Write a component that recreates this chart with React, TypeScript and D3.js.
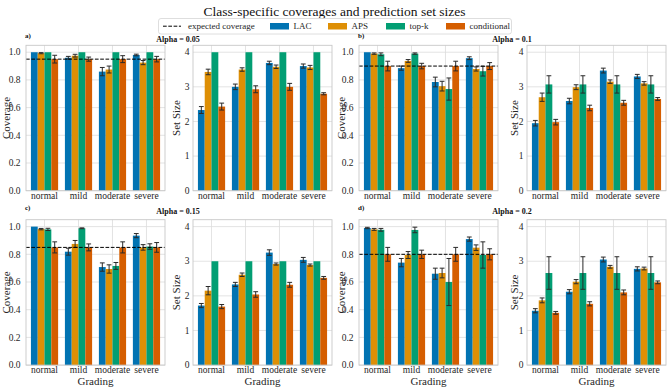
import * as d3 from "d3";

const grades = ["normal", "mild", "moderate", "severe"];
const methods = ["LAC", "APS", "top-k", "conditional"];
const colors = ["#0173b2", "#de8f05", "#029e73", "#d55e00"];
const alphas = [0.05, 0.1, 0.15, 0.2];
const tags = ["a)", "b)", "c)", "d)"];

// rows = methods (LAC, APS, top-k, conditional), columns = grades
const cov05 = [[1.0, 0.96, 0.86, 0.98], [0.993, 0.975, 0.875, 0.925], [1.0, 1.0, 1.0, 1.0], [0.95, 0.95, 0.95, 0.95]];
const cov05Err = [[0, 0.01, 0.03, 0.006], [0.004, 0.01, 0.025, 0.015], [0, 0, 0, 0], [0.028, 0.015, 0.025, 0.02]];
const cov10 = [[1.0, 0.885, 0.785, 0.957], [0.99, 0.937, 0.755, 0.879], [0.985, 0.99, 0.734, 0.863], [0.9, 0.9, 0.9, 0.9]];
const cov10Err = [[0, 0.015, 0.035, 0.01], [0.005, 0.01, 0.035, 0.015], [0.01, 0.005, 0.08, 0.035], [0.035, 0.02, 0.035, 0.025]];
const cov15 = [[1.0, 0.819, 0.708, 0.935], [0.982, 0.875, 0.694, 0.85], [0.98, 0.988, 0.716, 0.856], [0.85, 0.85, 0.85, 0.85]];
const cov15Err = [[0, 0.025, 0.03, 0.015], [0.005, 0.025, 0.03, 0.02], [0.008, 0.003, 0.025, 0.02], [0.04, 0.025, 0.04, 0.035]];
const cov20 = [[0.99, 0.74, 0.66, 0.91], [0.98, 0.795, 0.665, 0.848], [0.977, 0.976, 0.6, 0.795], [0.8, 0.8, 0.8, 0.8]];
const cov20Err = [[0.005, 0.03, 0.04, 0.015], [0.007, 0.025, 0.035, 0.02], [0.01, 0.02, 0.17, 0.095], [0.05, 0.03, 0.05, 0.04]];

const size05 = [[2.33, 3.0, 3.69, 3.6], [3.43, 3.5, 3.58, 3.56], [4, 4, 4, 4], [2.43, 2.93, 3.0, 2.8]];
const size05Err = [[0.1, 0.08, 0.05, 0.06], [0.08, 0.05, 0.05, 0.06], [0, 0, 0, 0], [0.1, 0.1, 0.1, 0.03]];
const size10 = [[1.95, 2.59, 3.47, 3.3], [2.7, 2.99, 3.15, 3.1], [3.07, 3.07, 3.07, 3.07], [1.98, 2.39, 2.54, 2.65]];
const size10Err = [[0.08, 0.08, 0.07, 0.06], [0.12, 0.07, 0.05, 0.05], [0.25, 0.25, 0.25, 0.25], [0.08, 0.08, 0.07, 0.04]];
const size15 = [[1.72, 2.33, 3.25, 3.04], [2.15, 2.61, 2.92, 2.89], [3, 3, 3, 3], [1.69, 2.04, 2.32, 2.52]];
const size15Err = [[0.06, 0.06, 0.08, 0.07], [0.12, 0.05, 0.03, 0.03], [0, 0, 0, 0], [0.06, 0.08, 0.07, 0.04]];
const size20 = [[1.57, 2.12, 3.05, 2.78], [1.87, 2.41, 2.84, 2.79], [2.66, 2.66, 2.66, 2.66], [1.51, 1.77, 2.1, 2.39]];
const size20Err = [[0.06, 0.06, 0.07, 0.06], [0.07, 0.06, 0.04, 0.04], [0.47, 0.47, 0.47, 0.47], [0.04, 0.06, 0.07, 0.04]];

const coverage = [cov05, cov10, cov15, cov20];
const coverageErr = [cov05Err, cov10Err, cov15Err, cov20Err];
const setSize = [size05, size10, size15, size20];
const setSizeErr = [size05Err, size10Err, size15Err, size20Err];

const covTicks = [0, 0.2, 0.4, 0.6, 0.8, 1.0];
const sizeTicks = [0, 1, 2, 3, 4];

const W = 669;
const H = 388;
const FONT = "'Liberation Serif', 'Times New Roman', serif";
const axLeft = [26, 193, 359, 527];
const axTop = [45.3, 219.7];
const axW = 139;
const axH = 145.4;
// y-label positions for coverage / set size axes, per subfigure column
const covLabelX = [6, 341];
const sizeLabelX = [176.5, 514];

type PanelProps = {
  x0: number;
  y0: number;
  means: number[][];
  errs: number[][];
  yMax: number;
  ticks: number[];
  fmt: (v: number) => string;
  tickPad: number;
  ylabel: string;
  labelX: number;
  expected?: number;
  xlabel: boolean;
};

function Panel({ x0, y0, means, errs, yMax, ticks, fmt, tickPad, ylabel, labelX, expected, xlabel }: PanelProps) {
  const x = d3.scaleLinear().domain([-0.545, 3.545]).range([x0, x0 + axW]);
  const y = d3.scaleLinear().domain([0, yMax]).range([y0 + axH, y0]);
  const bw = 0.2;
  const cap = 2.4;
  return (
    <g>
      {/* grid */}
      {ticks.map((t) => (
        <line key={"gy" + t} x1={x0} x2={x0 + axW} y1={y(t)} y2={y(t)} stroke="#dcdcdc" strokeWidth={0.8} />
      ))}
      {grades.map((g, i) => (
        <line key={"gx" + g} x1={x(i)} x2={x(i)} y1={y0} y2={y0 + axH} stroke="#dcdcdc" strokeWidth={0.8} />
      ))}
      {/* bars */}
      {means.map((row, m) =>
        row.map((v, i) => {
          const left = x(i - 0.4 + m * bw);
          const right = x(i - 0.4 + (m + 1) * bw);
          return (
            <rect key={`b${m}-${i}`} x={left} width={right - left} y={y(v)} height={y(0) - y(v)} fill={colors[m]} />
          );
        })
      )}
      {/* error bars */}
      {means.map((row, m) =>
        row.map((v, i) => {
          const e = errs[m][i];
          if (!e) return null;
          const cx = x(i - 0.4 + (m + 0.5) * bw);
          return (
            <g key={`e${m}-${i}`} stroke="#2a2a2a" strokeWidth={1}>
              <line x1={cx} x2={cx} y1={y(v - e)} y2={y(v + e)} />
              <line x1={cx - cap} x2={cx + cap} y1={y(v - e)} y2={y(v - e)} />
              <line x1={cx - cap} x2={cx + cap} y1={y(v + e)} y2={y(v + e)} />
            </g>
          );
        })
      )}
      {expected !== undefined && (
        <line x1={x0} x2={x0 + axW} y1={y(expected)} y2={y(expected)} stroke="#000" strokeWidth={1} strokeDasharray="3.7,1.6" />
      )}
      <rect x={x0} y={y0} width={axW} height={axH} fill="none" stroke="#c8c8c8" strokeWidth={0.9} />
      {/* tick labels */}
      {ticks.map((t) => (
        <text key={"ty" + t} x={x0 - tickPad} y={y(t)} dy="0.34em" textAnchor="end" fontSize={9.5} fill="#262626">
          {fmt(t)}
        </text>
      ))}
      {grades.map((g, i) => (
        <text key={"tx" + g} x={x(i)} y={y0 + axH + 7.8} textAnchor="middle" fontSize={9.5} fill="#262626">
          {g}
        </text>
      ))}
      <text
        transform={`translate(${labelX},${y0 + axH / 2}) rotate(-90)`}
        textAnchor="middle"
        dy="0.35em"
        fontSize={11}
        fill="#262626"
      >
        {ylabel}
      </text>
      {xlabel && (
        <text x={x0 + axW / 2} y={y0 + axH + 20.2} textAnchor="middle" fontSize={11} fill="#262626">
          Grading
        </text>
      )}
    </g>
  );
}

export default function App() {
  const legendItems = methods.map((m, i) => ({ name: m, color: colors[i] }));
  const patchX = [270, 328, 386, 446];
  return (
    <svg width={W} height={H} style={{ display: "block", position: "absolute", left: 0, top: 0 }} fontFamily={FONT}>
      <rect width={W} height={H} fill="#fff" />
      <text x={W / 2} y={16} textAnchor="middle" fontSize={13.5} fill="#111">
        Class-specific coverages and prediction set sizes
      </text>
      {/* legend */}
      <rect x={158.5} y={18.5} width={353} height={15.5} rx={2.5} fill="#fff" stroke="#d5d5d5" strokeWidth={0.8} />
      <line x1={163} x2={181} y1={26.2} y2={26.2} stroke="#000" strokeWidth={1} strokeDasharray="3.7,1.6" />
      <text x={188} y={29.2} fontSize={9} fill="#262626">expected coverage</text>
      {legendItems.map((it, i) => (
        <g key={it.name}>
          <rect x={patchX[i]} y={23} width={19} height={6.5} fill={it.color} />
          <text x={patchX[i] + 23.5} y={29.2} fontSize={9} fill="#262626">
            {it.name}
          </text>
        </g>
      ))}
      {alphas.map((a, k) => {
        const col = k % 2;
        const row = Math.floor(k / 2);
        const y0 = axTop[row];
        const cx = axLeft[col * 2];
        const sx = axLeft[col * 2 + 1];
        const isBottom = row === 1;
        return (
          <g key={a}>
            <text x={cx - 1} y={y0 - (isBottom ? 10 : 7.5)} fontSize={7} fontWeight="bold" fill="#111">
              {tags[k]}
            </text>
            <text x={col === 0 ? 178 : 512} y={y0 - (isBottom ? 6 : 3.5)} textAnchor="middle" fontSize={8} fontWeight="bold" fill="#111">
              {`Alpha = ${a}`}
            </text>
            <Panel
              x0={cx}
              y0={y0}
              means={coverage[k]}
              errs={coverageErr[k]}
              yMax={1.05}
              ticks={covTicks}
              fmt={d3.format(".1f")}
              tickPad={5.5}
              ylabel="Coverage"
              labelX={covLabelX[col]}
              expected={1 - a}
              xlabel={isBottom}
            />
            <Panel
              x0={sx}
              y0={y0}
              means={setSize[k]}
              errs={setSizeErr[k]}
              yMax={4.2}
              ticks={sizeTicks}
              fmt={d3.format("d")}
              tickPad={3.5}
              ylabel="Set Size"
              labelX={sizeLabelX[col]}
              xlabel={isBottom}
            />
          </g>
        );
      })}
    </svg>
  );
}
